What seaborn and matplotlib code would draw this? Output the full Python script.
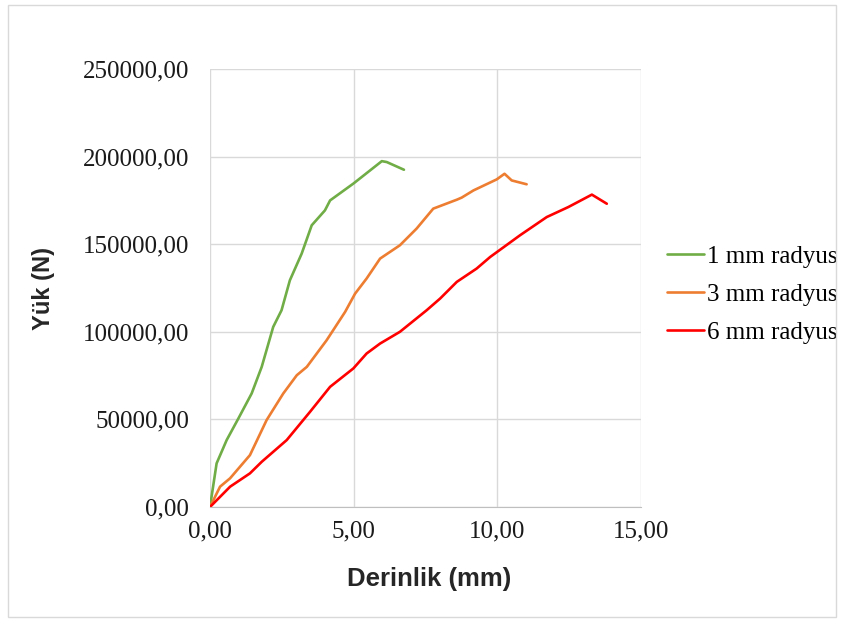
import seaborn as sns
import pandas as pd
import matplotlib.pyplot as plt
from matplotlib.ticker import FuncFormatter
from matplotlib.patches import Rectangle

x_1mm = [0, 0.23, 0.58, 0.99, 1.45, 1.80, 2.20, 2.49, 2.78, 3.19, 3.54, 4.00, 4.18, 4.99, 5.57, 5.98, 6.15, 6.75]
y_1mm = [0, 24900, 38200, 50600, 64800, 80000, 102800, 112300, 129400, 144600, 160800, 169300, 175000, 184600, 192100, 197400, 196900, 192500]

x_3mm = [0, 0.35, 0.70, 1.39, 1.97, 2.55, 3.02, 3.37, 4.06, 4.70, 5.05, 5.45, 5.92, 6.61, 7.19, 7.77, 8.59, 8.76, 9.17, 9.98, 10.25, 10.50, 11.02]
y_3mm = [0, 11600, 16400, 29600, 49600, 64800, 75200, 80000, 95200, 111300, 121800, 130400, 141800, 149400, 158900, 170300, 175400, 176600, 180700, 187000, 190200, 186400, 184200]

x_6mm = [0, 0.70, 1.39, 1.80, 2.67, 3.48, 4.18, 4.99, 5.45, 5.92, 6.61, 7.54, 8.01, 8.59, 9.28, 9.75, 10.79, 11.72, 12.47, 13.29, 13.81]
y_6mm = [0, 11600, 19200, 25800, 38200, 54300, 68600, 79100, 87600, 93300, 100000, 112300, 119000, 128500, 136100, 142700, 155100, 165500, 171200, 178300, 173100]

labels = ['1 mm radyus', '3 mm radyus', '6 mm radyus']
colors = ['#70AD47', '#ED7D31', '#FF0000']

df = pd.concat([
    pd.DataFrame({'Derinlik': x_1mm, 'Yuk': y_1mm, 'seri': labels[0]}),
    pd.DataFrame({'Derinlik': x_3mm, 'Yuk': y_3mm, 'seri': labels[1]}),
    pd.DataFrame({'Derinlik': x_6mm, 'Yuk': y_6mm, 'seri': labels[2]}),
], ignore_index=True)

sns.set_style('white')
plt.rcParams['font.family'] = ['Liberation Serif', 'DejaVu Serif']

fig = plt.figure(figsize=(8.45, 6.25), dpi=100)
ax = fig.add_axes([210 / 845, 1 - 507 / 625, 431 / 845, 438 / 625])

sns.lineplot(data=df, x='Derinlik', y='Yuk', hue='seri', palette=colors,
             sort=False, estimator=None, linewidth=1.9, ax=ax)

ax.set_xlim(0, 15)
ax.set_ylim(0, 250000)
ax.set_xticks([0, 5, 10, 15])
ax.set_yticks(range(0, 250001, 50000))
comma = FuncFormatter(lambda v, p: f'{v:.2f}'.replace('.', ','))
ax.xaxis.set_major_formatter(comma)
ax.yaxis.set_major_formatter(comma)
ax.tick_params(axis='both', labelsize=18, length=0, colors='#1a1a1a')
ax.tick_params(axis='y', pad=15)
ax.tick_params(axis='x', pad=10)
ax.grid(True, color='#D9D9D9', linewidth=1)
for s in ax.spines.values():
    s.set_visible(False)
ax.spines['bottom'].set_visible(True)
ax.spines['bottom'].set_color('#BFBFBF')
ax.set_xlabel('')
ax.set_ylabel('')

fig.text(429 / 845, 1 - 579 / 625, 'Derinlik (mm)', family='Liberation Sans', fontweight='bold',
         fontsize=18.5, ha='center', va='center')
fig.text(44 / 845, 1 - 288 / 625, 'Yük (N)', family='Liberation Sans', fontweight='bold',
         fontsize=17, ha='center', va='center', rotation=90)

leg = ax.legend(loc='upper left', bbox_to_anchor=(667 / 845, 1 - 245 / 625), bbox_transform=fig.transFigure,
                frameon=False, fontsize=18, handlelength=1.5, handletextpad=0.12, labelspacing=0.63,
                borderpad=0, borderaxespad=0)
for t in leg.get_texts():
    t.set_color('#000000')

fig.patches.append(Rectangle((8 / 845, 8 / 625), 828 / 845, 612 / 625, transform=fig.transFigure,
                             fill=False, edgecolor='#D9D9D9', linewidth=1))

fig.savefig('out.png', dpi=100)
